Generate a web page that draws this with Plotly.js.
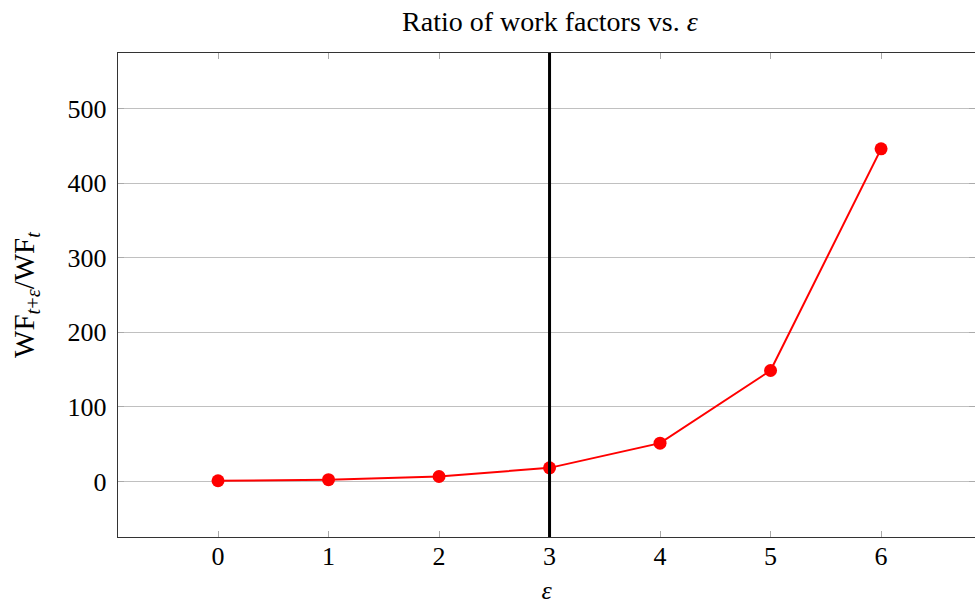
<!DOCTYPE html>
<html>
<head>
<meta charset="utf-8">
<script src="https://cdn.plot.ly/plotly-3.0.1.min.js"></script>
<style>html,body{margin:0;padding:0;overflow:hidden;background:#fff;}</style>
</head>
<body>
<div id="chart" style="width:975px;height:605px;"></div>
<script>
// Data
const epsilon = [0, 1, 2, 3, 4, 5, 6];
const ratio = [1, 2.4, 6.7, 18.3, 51.4, 148.8, 446];
const xTicks = [0, 1, 2, 3, 4, 5, 6];
const yTicks = [0, 100, 200, 300, 400, 500];
const markerEps = 3;

const serif = "Liberation Serif, DejaVu Serif, serif";

const trace = {
  x: epsilon,
  y: ratio,
  type: 'scatter',
  mode: 'lines+markers',
  line: {color: '#ff0000', width: 2},
  marker: {color: '#ff0000', size: 13},
  showlegend: false,
  hoverinfo: 'x+y'
};
const rightTicks = {
  x: [markerEps], y: [0], yaxis: 'y2', type: 'scatter', mode: 'markers',
  marker: {opacity: 0}, showlegend: false, hoverinfo: 'skip'
};

const yRange = [-74.4, 574.5];

const layout = {
  width: 975,
  height: 605,
  margin: {l: 118, r: 0, t: 53, b: 68},
  paper_bgcolor: '#ffffff',
  plot_bgcolor: '#ffffff',
  font: {family: serif, size: 26, color: '#000'},
  title: {
    text: 'Ratio of work factors vs. <i>ε</i>',
    font: {family: serif, size: 28, color: '#000'},
    x: 0.504, xanchor: 'center', xref: 'paper',
    y: 0.965, yanchor: 'middle', yref: 'container'
  },
  xaxis: {
    range: [-0.905, 6.85],
    tickvals: xTicks,
    ticktext: xTicks.map(String),
    ticks: 'inside',
    ticklen: 6,
    tickcolor: '#aaaaaa',
    tickwidth: 1,
    showline: true,
    linecolor: '#333333',
    linewidth: 1.3,
    mirror: 'ticks',
    showgrid: false,
    zeroline: false,
    ticklabelstandoff: -5,
    tickfont: {family: serif, size: 26},
    title: {text: '<i>ε</i>', font: {family: serif, size: 26}, standoff: 14}
  },
  yaxis: {
    range: yRange,
    tickvals: yTicks,
    ticktext: yTicks.map(String),
    ticks: 'inside',
    ticklen: 6,
    tickcolor: '#aaaaaa',
    tickwidth: 1,
    showline: true,
    linecolor: '#333333',
    linewidth: 1.3,
    mirror: false,
    showgrid: true,
    gridcolor: '#c0c0c0',
    gridwidth: 1,
    zeroline: false,
    ticklabelstandoff: 5,
    tickfont: {family: serif, size: 26},
    title: {text: 'WF<sub><i>t</i>+<i>ε</i></sub>/WF<sub><i>t</i></sub>', font: {family: serif, size: 29}, standoff: 24}
  },
  yaxis2: {
    overlaying: 'y',
    side: 'right',
    range: yRange,
    tickvals: yTicks,
    showticklabels: false,
    ticks: 'inside',
    ticklen: 6,
    tickcolor: '#aaaaaa',
    showline: false,
    showgrid: false,
    zeroline: false
  },
  shapes: [{
    type: 'line', xref: 'x', yref: 'paper',
    x0: markerEps, x1: markerEps, y0: 0, y1: 1,
    line: {color: '#000000', width: 3}
  }]
};

Plotly.newPlot('chart', [trace, rightTicks], layout, {displayModeBar: false, staticPlot: true});
</script>
</body>
</html>
